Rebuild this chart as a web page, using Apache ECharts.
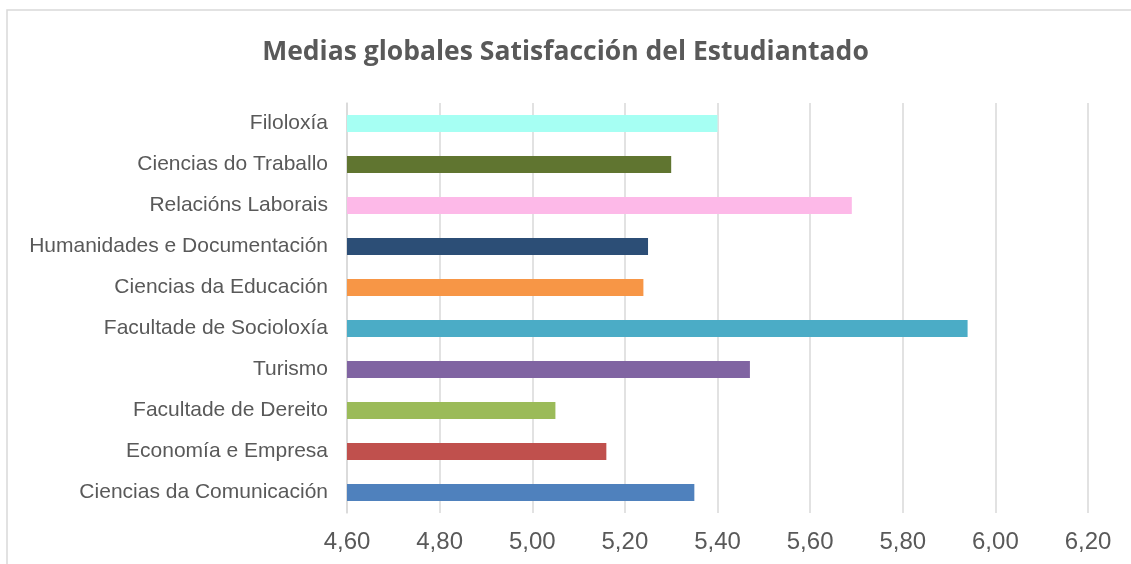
<!DOCTYPE html>
<html><head><meta charset="utf-8">
<script src="https://cdn.jsdelivr.net/npm/echarts@6/dist/echarts.min.js"></script>
<style>html,body{margin:0;padding:0;background:#fff}#c{width:1131px;height:564px}</style>
</head><body><div id="c"></div>
<script>
const categories = ["Ciencias da Comunicación","Economía e Empresa","Facultade de Dereito","Turismo","Facultade de Socioloxía","Ciencias da Educación","Humanidades e Documentación","Relacións Laborais","Ciencias do Traballo","Filoloxía"];
const values = [5.35, 5.16, 5.05, 5.47, 5.94, 5.24, 5.25, 5.69, 5.30, 5.40];
const colors = ["#4F81BD","#C0504D","#9BBB59","#8064A2","#4BACC6","#F79646","#2C4E76","#FDB9E8","#607530","#A6FFF3"];
const title = "Medias globales Satisfacción del Estudiantado";

const chart = echarts.init(document.getElementById('c'), null, {renderer:'canvas'});
chart.setOption({
  animation:false,
  backgroundColor:'#fff',
  title:{text:title,left:'center',top:34,textStyle:{fontFamily:'Open Sans',fontWeight:'bold',fontSize:26.5,color:'#595959'}},
  graphic:[{type:'rect',shape:{x:7,y:10,width:1140,height:600},style:{fill:'none',stroke:'#d9d9d9',lineWidth:1.5},z:-1}],
  grid:{left:347,right:43,top:103,bottom:51},
  xAxis:{type:'value',min:4.6,max:6.2,interval:0.2,
    axisLine:{show:false},axisTick:{show:false},
    splitLine:{lineStyle:{color:'#d9d9d9',width:1.5}},
    axisLabel:{margin:17,fontFamily:'Liberation Sans, Arial',fontSize:24,color:'#595959',
      formatter:v=>v.toFixed(2).replace('.',',')}},
  yAxis:{type:'category',data:categories,
    axisLine:{lineStyle:{color:'#d9d9d9',width:1.5}},axisTick:{show:false},
    axisLabel:{margin:19,fontFamily:'Liberation Sans, Arial',fontSize:21,color:'#595959',padding:[2,0,0,0]}},
  series:[{type:'bar',data:values.map((v,i)=>({value:v,itemStyle:{color:colors[i]}})),barWidth:17}]
});
</script></body></html>
